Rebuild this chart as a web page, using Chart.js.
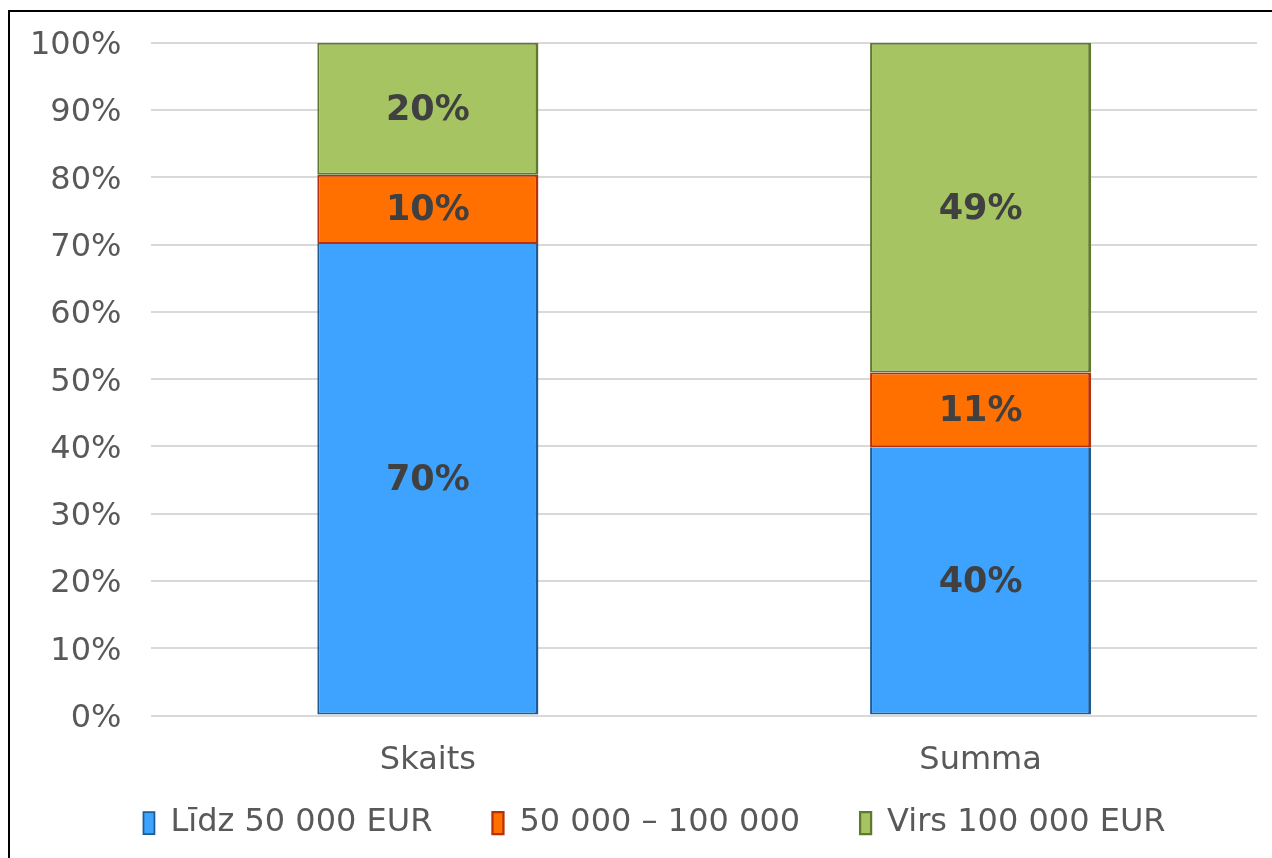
<!DOCTYPE html>
<html><head><meta charset="utf-8">
<script src="https://cdn.jsdelivr.net/npm/chart.js@4/dist/chart.umd.min.js"></script>
<style>
html,body{margin:0;padding:0;background:#fff;}
#wrap{position:absolute;left:0;top:0;width:1272px;height:858px;}
#frame{position:absolute;left:8px;top:10px;width:1280px;height:860px;border:2px solid #000;box-sizing:border-box;}
canvas{position:absolute;left:0;top:0;}
</style></head>
<body>
<div id="wrap"><div id="frame"></div><canvas id="c" width="1272" height="858"></canvas></div>
<script>
const categories = ["Skaits", "Summa"];
const seriesNames = ["Līdz 50 000 EUR", "50 000 – 100 000", "Virs 100 000 EUR"];
const lidz50k = [70.1, 39.9];
const from50to100k = [10.3, 11.1];
const virs100k = [19.6, 49.0];
const yTicks = [0,10,20,30,40,50,60,70,80,90,100];

const FONT = "'DejaVu Sans', Verdana, sans-serif";
const X_SHRINK = 51;

const labelPlugin = {
  id: 'segLabels',
  afterLayout(chart) {
    const s = chart.scales.x;
    s.bottom += X_SHRINK; s.height += X_SHRINK;
    const lg = chart.legend;
    if (lg) { lg.left += 26; lg.right += 26; }
  },
  afterDatasetsDraw(chart) {
    const ctx = chart.ctx;
    ctx.save();
    ctx.font = "bold 35px " + FONT;
    ctx.fillStyle = "#404040";
    ctx.textAlign = "center";
    ctx.textBaseline = "middle";
    chart.data.datasets.forEach((ds, i) => {
      chart.getDatasetMeta(i).data.forEach((bar, j) => {
        const v = ds.data[j];
        const p = bar.getProps(['x','y','base'], true);
        ctx.fillText(Math.round(v) + "%", p.x, (p.y + p.base) / 2 + 2);
      });
    });
    ctx.restore();
  }
};

new Chart(document.getElementById('c'), {
  type: 'bar',
  data: {
    labels: categories,
    datasets: [
      {label: seriesNames[0], data: lidz50k, backgroundColor: '#3DA3FF', borderColor: '#1E5C96', borderWidth: {left:2,right:3,top:0,bottom:2}, borderSkipped: false},
      {label: seriesNames[1], data: from50to100k, backgroundColor: '#FF7000', borderColor: '#B8300A', borderWidth: {left:2,right:3,top:2,bottom:2}, borderSkipped: false},
      {label: seriesNames[2], data: virs100k, backgroundColor: '#A6C462', borderColor: '#5E7A2E', borderWidth: {left:2,right:3,top:2,bottom:2}, borderSkipped: false}
    ]
  },
  options: {
    responsive: false,
    animation: false,
    layout: {padding: {left: 0, right: 15, top: 10, bottom: 9}},
    datasets: {bar: {categoryPercentage: 0.8, barPercentage: 0.5}},
    scales: {
      x: {
        stacked: true,
        grid: {display: false},
        border: {display: false},
        ticks: {color: '#595959', font: {family: FONT, size: 32}, padding: 18},
        afterFit(scale) { scale.height -= X_SHRINK; }
      },
      y: {
        stacked: true,
        min: 0, max: 100,
        afterBuildTicks(axis) { axis.ticks = yTicks.map(v => ({value: v})); },
        grid: {color: '#D9D9D9', lineWidth: 2, drawTicks: false},
        border: {display: false},
        ticks: {color: '#595959', font: {family: FONT, size: 32, lineHeight: 0.8}, padding: 30, labelOffset: 3, callback: v => v + '%'}
      }
    },
    plugins: {
      legend: {
        position: 'bottom',
        labels: {
          color: '#595959', font: {family: FONT, size: 32},
          boxWidth: 11, boxHeight: 22, padding: 60
        }
      },
      tooltip: {enabled: false}
    }
  },
  plugins: [labelPlugin]
});
</script>
</body></html>
